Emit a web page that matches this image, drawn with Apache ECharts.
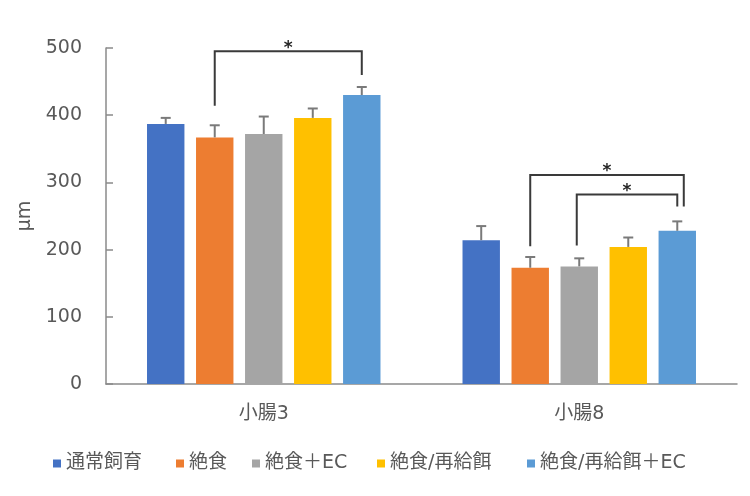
<!DOCTYPE html>
<html>
<head>
<meta charset="utf-8">
<script src="https://cdn.jsdelivr.net/npm/echarts@6/dist/echarts.min.js"></script>
<style>
html,body{margin:0;padding:0;background:#fff;}
#chart{width:750px;height:496px;}
</style>
</head>
<body>
<div id="chart"></div>
<script>
// ---- data ----
const categories = ['小腸3', '小腸8'];
const seriesNames = ['通常飼育', '絶食', '絶食＋EC', '絶食/再給餌', '絶食/再給餌＋EC'];
const seriesColors = ['#4472C4', '#ED7D31', '#A5A5A5', '#FFC000', '#5B9BD5'];
const valNormal = [387, 214];
const valFast = [367, 173];
const valFastEC = [372, 175];
const valRefeed = [396, 204];
const valRefeedEC = [430, 228];
const errNormal = [9, 21];
const errFast = [18, 16];
const errFastEC = [26, 12];
const errRefeed = [14, 14];
const errRefeedEC = [12, 14];
const yTicks = [0, 100, 200, 300, 400, 500];
// significance brackets: category, from series, to series, bottoms and top (in µm)
const bracketCats = [0, 1, 1];
const bracketFrom = [1, 1, 2];
const bracketTo = [4, 4, 4];
const bracketFromBottom = [414, 205, 206];
const bracketToBottom = [460, 264, 264];
const bracketTop = [495, 311, 282];
const bracketLabel = ['*', '*', '*'];

// ---- layout constants ----
const CAT_GAP = 0.26, BAR_GAP = 0.31;
const FONT = "'DejaVu Sans', 'Noto Sans CJK JP', sans-serif";
const TXT = '#595959';
const bracketNudgeFrom = [0, 0, -2.5];
const bracketNudgeTo = [0, 6.5, 0];

const values = [valNormal, valFast, valFastEC, valRefeed, valRefeedEC];
const errors = [errNormal, errFast, errFastEC, errRefeed, errRefeedEC];
const N = seriesNames.length;

function barCenter(api, cat, si) {
  const band = api.size([1, 0])[0];
  const groupW = band * (1 - CAT_GAP);
  const bw = groupW / (N + (N - 1) * BAR_GAP);
  const c = api.coord([cat, 0])[0];
  return c - groupW / 2 + bw / 2 + si * bw * (1 + BAR_GAP);
}

const errData = [];
for (let s = 0; s < N; s++) {
  for (let c = 0; c < categories.length; c++) {
    errData.push([c, s, values[s][c], errors[s][c]]);
  }
}
const brData = bracketCats.map((c, i) => [c, bracketFrom[i], bracketTo[i], bracketFromBottom[i], bracketToBottom[i], bracketTop[i], i]);

const barSeries = seriesNames.map((name, s) => ({
  name: name,
  type: 'bar',
  data: values[s],
  barGap: (BAR_GAP * 100) + '%',
  barCategoryGap: (CAT_GAP * 100) + '%',
  itemStyle: { color: seriesColors[s] },
  z: 2
}));

const chart = echarts.init(document.getElementById('chart'), null, { renderer: 'canvas' });
chart.setOption({
  animation: false,
  textStyle: { fontFamily: FONT },
  grid: { left: 106, right: 13, top: 48, bottom: 112 },
  legend: seriesNames.map((n, i) => ({
    data: [n],
    left: [53, 176, 252, 377, 527][i],
    top: 454,
    padding: 0,
    itemWidth: 8,
    itemHeight: 8,
    icon: 'rect',
    selectedMode: false,
    textStyle: { fontSize: 19, color: TXT, fontFamily: FONT }
  })),
  xAxis: {
    type: 'category',
    data: categories,
    axisLine: { lineStyle: { color: '#8a8a8a', width: 1.5 } },
    axisTick: { show: false },
    axisLabel: { fontSize: 19, color: TXT, margin: 21, fontFamily: FONT }
  },
  yAxis: {
    type: 'value',
    min: yTicks[0],
    max: yTicks[yTicks.length - 1],
    interval: 100,
    name: 'μm',
    nameLocation: 'middle',
    nameRotate: 90,
    nameGap: 70,
    nameTextStyle: { fontSize: 19, color: TXT, fontFamily: FONT },
    axisLine: { show: true, lineStyle: { color: '#8a8a8a', width: 1.5 } },
    axisTick: { show: true, inside: true, length: 7, lineStyle: { color: '#8a8a8a', width: 1.5 } },
    splitLine: { show: false },
    axisLabel: { fontSize: 19, color: TXT, margin: 24, fontFamily: FONT }
  },
  series: barSeries.concat([
    {
      type: 'custom',
      data: errData,
      z: 5,
      silent: true,
      clip: false,
      renderItem: function (params, api) {
        const cat = api.value(0), si = api.value(1), v = api.value(2), e = api.value(3);
        const x = barCenter(api, cat, si);
        const y0 = api.coord([cat, v])[1];
        const y1 = api.coord([cat, v + e])[1];
        const st = { stroke: '#7a7a7a', lineWidth: 2 };
        return {
          type: 'group',
          children: [
            { type: 'line', shape: { x1: x, y1: y0, x2: x, y2: y1 }, style: st },
            { type: 'line', shape: { x1: x - 5, y1: y1, x2: x + 5, y2: y1 }, style: st }
          ]
        };
      }
    },
    {
      type: 'custom',
      data: brData,
      z: 6,
      silent: true,
      clip: false,
      renderItem: function (params, api) {
        const cat = api.value(0), f = api.value(1), t = api.value(2);
        const yb1 = api.value(3), yb2 = api.value(4), yt = api.value(5), idx = api.value(6);
        const x1 = barCenter(api, cat, f) + bracketNudgeFrom[idx];
        const x2 = barCenter(api, cat, t) + bracketNudgeTo[idx];
        const pA = api.coord([cat, yb1])[1];
        const pB = api.coord([cat, yb2])[1];
        const pT = api.coord([cat, yt])[1];
        return {
          type: 'group',
          children: [
            { type: 'polyline', shape: { points: [[x1, pA], [x1, pT], [x2, pT], [x2, pB]] },
              style: { stroke: '#3a3a3a', lineWidth: 2, fill: null } },
            { type: 'text', x: (x1 + x2) / 2, y: pT - 3,
              style: { text: bracketLabel[idx], fontSize: 17, fontWeight: 'bold', fill: '#262626',
                       align: 'center', verticalAlign: 'middle', fontFamily: FONT } }
          ]
        };
      }
    }
  ])
});
</script>
</body>
</html>
